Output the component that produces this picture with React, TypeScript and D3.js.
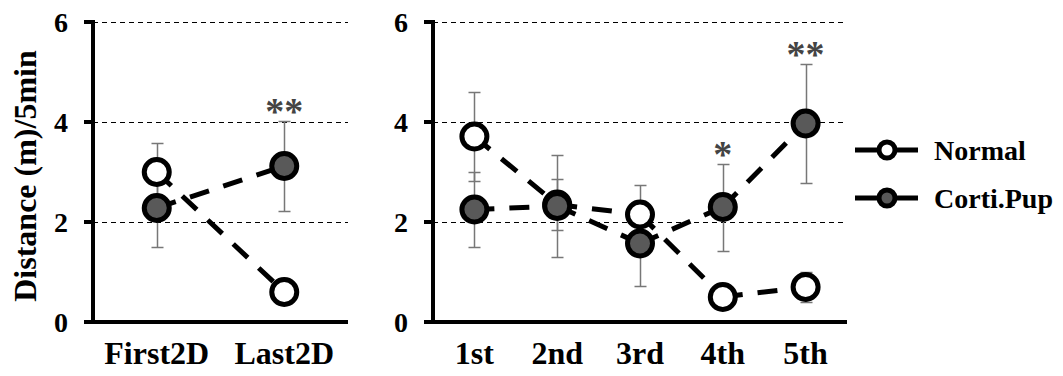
import React from 'react';
import * as d3 from 'd3';

// values (distance in m per 5 min, mean and error)
const leftCategories = ['First2D', 'Last2D'];
const rightCategories = ['1st', '2nd', '3rd', '4th', '5th'];

const normalLeft = [3.0, 0.6];
const normalLeftErr = [0.58, 0.12];
const cortiLeft = [2.28, 3.12];
const cortiLeftErr = [0.78, 0.9];
const leftStars = ['', '**'];

const normalRight = [3.71, 2.35, 2.15, 0.5, 0.7];
const normalRightErr = [0.89, 0.5, 0.6, 0.12, 0.3];
const cortiRight = [2.25, 2.32, 1.57, 2.3, 3.97];
const cortiRightErr = [0.75, 1.02, 0.85, 0.87, 1.19];
const rightStars = ['', '', '', '*', '**'];

const yTicks = [0, 2, 4, 6];
const legendItems = ['Normal', 'Corti.Pup'];

const FONT = '"Liberation Serif", "Times New Roman", serif';
const CORTI_FILL = '#595959';

const y = d3.scaleLinear().domain([0, 6]).range([322, 22]);

const Panel = ({ x0, x1, cats, normal, normalErr, corti, cortiErr, stars }) => {
  const x = d3.scaleBand().domain(cats).range([x0, x1]);
  const cx = (c) => x(c) + x.bandwidth() / 2;
  const line = d3.line().x((d) => d[0]).y((d) => d[1]);

  const segments = (vals) =>
    vals.slice(1).map((v, i) => line([
      [cx(cats[i]), y(vals[i])],
      [cx(cats[i + 1]), y(v)],
    ]));

  const errBars = (vals, errs) =>
    vals.map((v, i) => {
      const c = Math.round(cx(cats[i])) + 0.5;
      const top = Math.round(y(v + errs[i])) + 0.5;
      const bot = Math.round(y(v - errs[i])) + 0.5;
      return (
        <g key={i} stroke="#777" strokeWidth={1.5}>
          <line x1={c} x2={c} y1={top} y2={bot} />
          <line x1={c - 6} x2={c + 6} y1={top} y2={top} />
          <line x1={c - 6} x2={c + 6} y1={bot} y2={bot} />
        </g>
      );
    });

  return (
    <g>
      {yTicks.filter((t) => t > 0).map((t) => (
        <line key={t} x1={x0} x2={x1} y1={y(t) + 0.5} y2={y(t) + 0.5} stroke="#000" strokeWidth={1.2} strokeDasharray="5 4" />
      ))}
      {yTicks.map((t) => (
        <g key={t}>
          <line x1={x0 - 9} x2={x0} y1={y(t)} y2={y(t)} stroke="#000" strokeWidth={4} />
          <text x={x0 - 25} y={y(t)} dy="0.35em" textAnchor="end" fontFamily={FONT} fontWeight="bold" fontSize={28}>
            {t}
          </text>
        </g>
      ))}
      <line x1={x0} x2={x0} y1={y(6) - 2} y2={y(0) + 2} stroke="#000" strokeWidth={4} />
      <line x1={x0 - 9} x2={x1} y1={y(0)} y2={y(0)} stroke="#000" strokeWidth={4} />
      {cats.map((c) => (
        <text key={c} x={cx(c)} y={364} textAnchor="middle" fontFamily={FONT} fontWeight="bold" fontSize={32}>
          {c}
        </text>
      ))}

      {[...segments(normal), ...segments(corti)].map((d, i) => (
        <path key={i} d={d} fill="none" stroke="#000" strokeWidth={5} strokeDasharray="20 15" />
      ))}

      {errBars(normal, normalErr)}
      {errBars(corti, cortiErr)}

      {normal.map((v, i) => (
        <circle key={'n' + i} cx={cx(cats[i])} cy={y(v)} r={12.5} fill="#fff" stroke="#000" strokeWidth={5} />
      ))}
      {corti.map((v, i) => (
        <circle key={'c' + i} cx={cx(cats[i])} cy={y(v)} r={12.5} fill={CORTI_FILL} stroke="#000" strokeWidth={5} />
      ))}

      {stars.map((s, i) =>
        s ? (
          <text key={'s' + i} x={cx(cats[i])} y={y(corti[i] + cortiErr[i]) - 16} dy="0.5em" textAnchor="middle"
            fontFamily={FONT} fontWeight="bold" fontSize={38} fill="#444">
            {s}
          </text>
        ) : null
      )}
    </g>
  );
};

const App = () => {
  return (
    <svg width={1063} height={376} style={{ position: 'absolute', left: 0, top: 0, background: '#fff' }}>
      <rect width={1063} height={376} fill="#fff" />
      <text transform="translate(25,176) rotate(-90)" textAnchor="middle" dy="0.35em"
        fontFamily={FONT} fontWeight="bold" fontSize={32}>
        Distance (m)/5min
      </text>
      <Panel x0={93} x1={348} cats={leftCategories} normal={normalLeft} normalErr={normalLeftErr}
        corti={cortiLeft} cortiErr={cortiLeftErr} stars={leftStars} />
      <Panel x0={433} x1={847} cats={rightCategories} normal={normalRight} normalErr={normalRightErr}
        corti={cortiRight} cortiErr={cortiRightErr} stars={rightStars} />
      {legendItems.map((name, i) => {
        const ly = 150 + i * 48;
        return (
          <g key={name}>
            <line x1={855} x2={918} y1={ly} y2={ly} stroke="#000" strokeWidth={5} />
            <circle cx={887} cy={ly} r={8} fill={i === 0 ? '#fff' : CORTI_FILL} stroke="#000" strokeWidth={5} />
            <text x={934} y={ly} dy="0.35em" fontFamily={FONT} fontWeight="bold" fontSize={28}>
              {name}
            </text>
          </g>
        );
      })}
    </svg>
  );
};

export default App;
